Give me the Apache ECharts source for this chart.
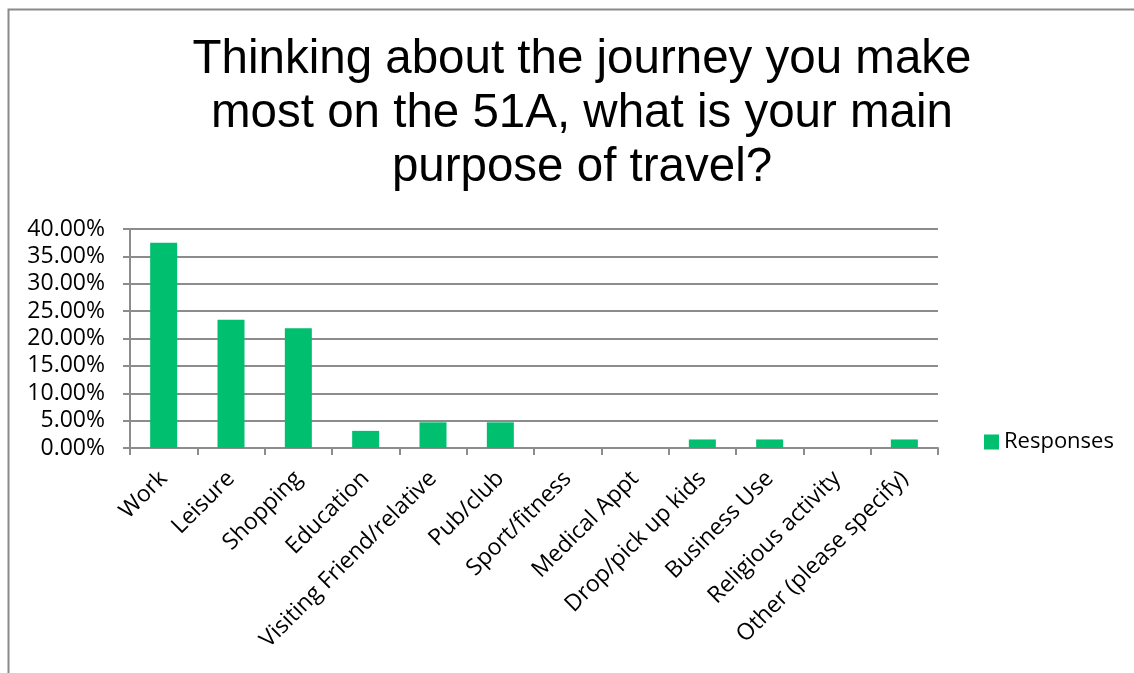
<!DOCTYPE html>
<html>
<head>
<meta charset="utf-8">
<script src="https://cdn.jsdelivr.net/npm/echarts@6/dist/echarts.min.js"></script>
<style>
  html, body { margin: 0; padding: 0; background: #fff; }
  #chart { width: 1134px; height: 673px; }
</style>
</head>
<body>
<div id="chart"></div>
<script>
// Survey responses: main purpose of travel on the 51A
const categories = [
  'Work', 'Leisure', 'Shopping', 'Education', 'Visiting Friend/relative',
  'Pub/club', 'Sport/fitness', 'Medical Appt', 'Drop/pick up kids',
  'Business Use', 'Religious activity', 'Other (please specify)'
];
const responses = [37.5, 23.44, 21.88, 3.13, 4.69, 4.69, 0, 0, 1.56, 1.56, 0, 1.56];
const yTicks = { min: 0, max: 40, interval: 5 };

const chart = echarts.init(document.getElementById('chart'));
const axisGray = '#8c8c8c';
const labelFont = '"Open Sans", "Liberation Sans", sans-serif';

chart.setOption({
  animation: false,
  title: {
    text: 'Thinking about the journey you make\nmost on the 51A, what is your main\npurpose of travel?',
    left: 577,
    top: 28,
    textAlign: 'center',
    textStyle: {
      fontFamily: '"Liberation Sans", Arial, sans-serif',
      fontWeight: 'normal',
      fontSize: 47.5,
      lineHeight: 54,
      color: '#000'
    }
  },
  legend: {
    data: ['Responses'],
    left: 979,
    top: 426,
    itemWidth: 15,
    itemHeight: 15,
    itemGap: 8,
    icon: 'rect',
    textStyle: { fontFamily: labelFont, fontSize: 22, color: '#000' }
  },
  grid: { left: 130, right: 196, top: 229, bottom: 225 },
  xAxis: {
    type: 'category',
    data: categories,
    axisLine: { lineStyle: { color: axisGray, width: 2 } },
    axisTick: { show: true, length: 7, lineStyle: { color: axisGray, width: 2 } },
    axisLabel: {
      rotate: 45,
      interval: 0,
      margin: 27,
      fontFamily: labelFont,
      fontSize: 23,
      color: '#000'
    }
  },
  yAxis: {
    type: 'value',
    min: yTicks.min,
    max: yTicks.max,
    interval: yTicks.interval,
    axisLine: { show: true, lineStyle: { color: axisGray, width: 2 } },
    axisTick: { show: true, length: 7, lineStyle: { color: axisGray, width: 2 } },
    splitLine: { lineStyle: { color: axisGray, width: 2 } },
    axisLabel: {
      margin: 25,
      fontFamily: labelFont,
      fontSize: 23,
      color: '#000',
      formatter: v => v.toFixed(2) + '%'
    }
  },
  series: [{
    name: 'Responses',
    type: 'bar',
    data: responses,
    barWidth: 27,
    itemStyle: { color: '#00BF6F' }
  }],
  graphic: [{
    type: 'rect',
    silent: true,
    shape: { x: 8.5, y: 9.5, width: 1300, height: 1000 },
    style: { fill: 'none', stroke: '#8a8a8a', lineWidth: 2 }
  }]
});
</script>
</body>
</html>
